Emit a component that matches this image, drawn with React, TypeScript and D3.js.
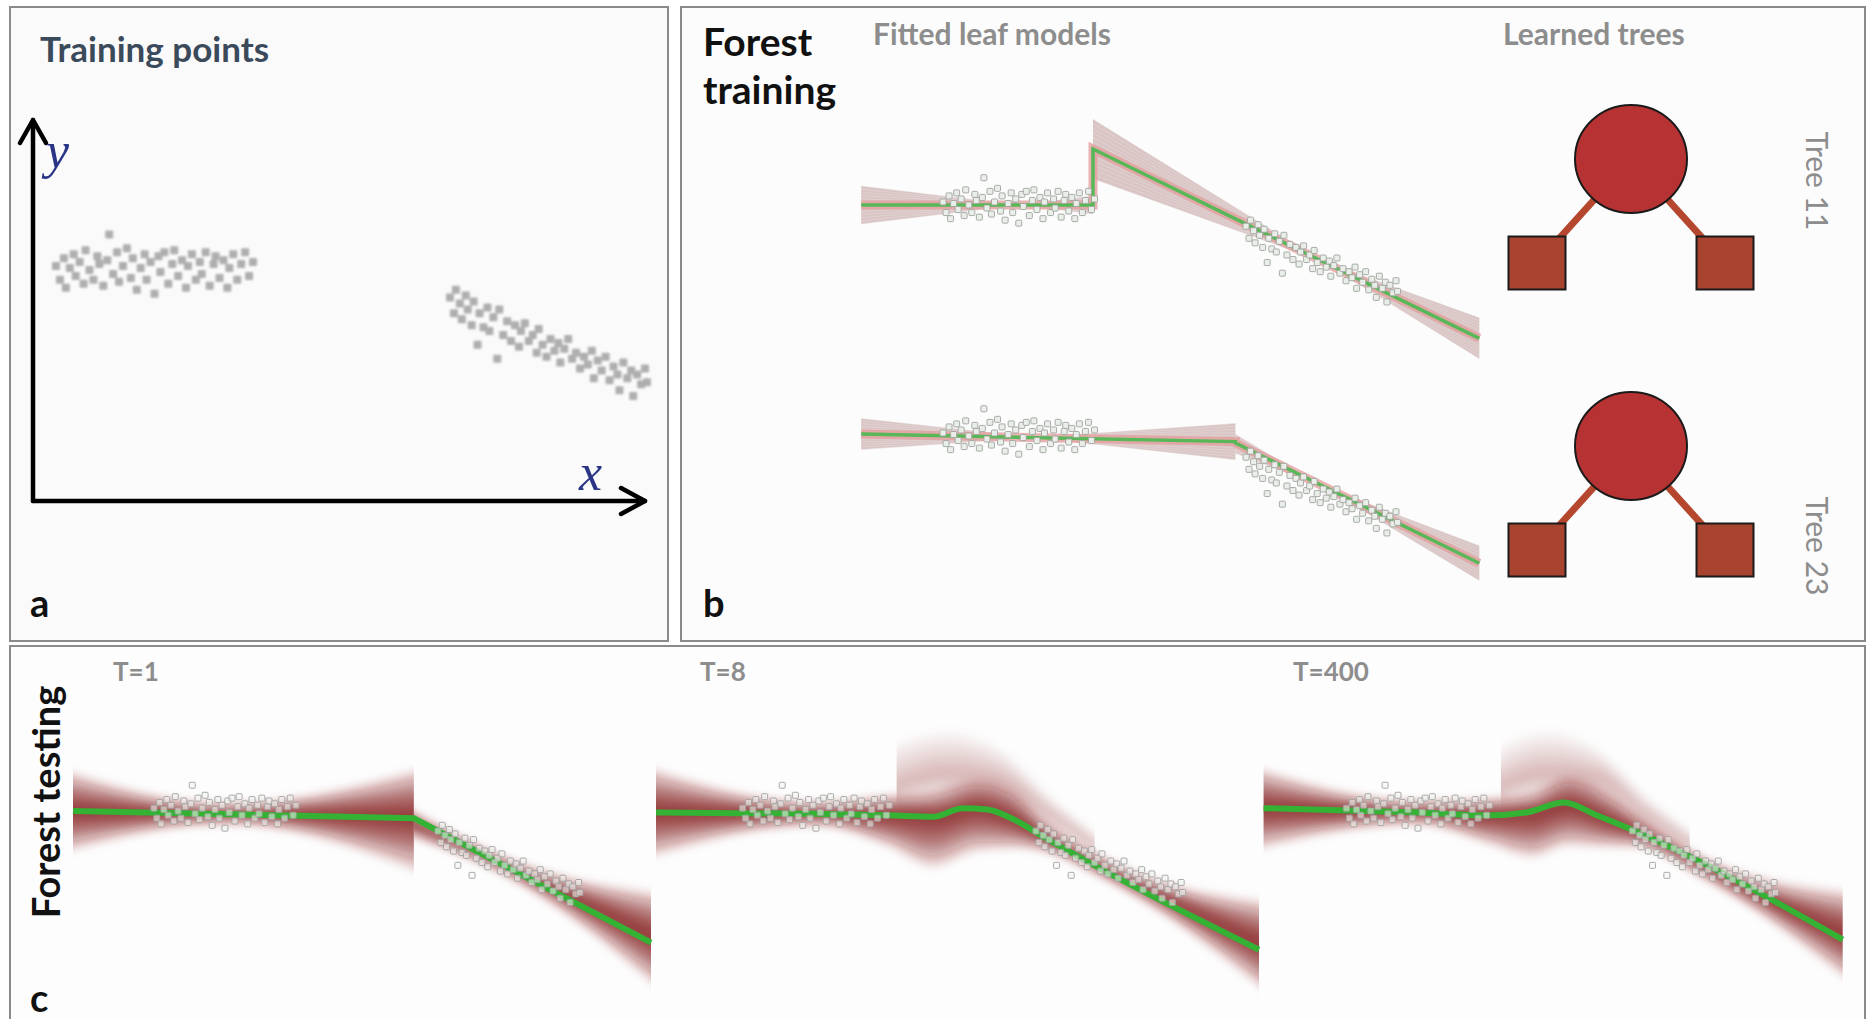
import React from 'react';
import * as d3 from 'd3';

type Pt = [number, number];
type Row = [number, number, number, number]; // x, centre, spread below, spread above

const W = 1871;
const H = 1019;

// training points (data units)
const clusterLeft: Pt[] = [
  [0.0, 0.02], [0.02, -0.05], [0.04, 0.06], [0.05, -0.09], [0.07, 0.01], [0.09, 0.08], [0.1, -0.03],
  [0.12, 0.04], [0.14, -0.07], [0.15, 0.1], [0.17, 0.0], [0.19, -0.05], [0.21, 0.07], [0.22, 0.03],
  [0.24, -0.08], [0.26, 0.05], [0.27, 0.18], [0.29, -0.02], [0.31, 0.09], [0.32, -0.06], [0.34, 0.02],
  [0.36, 0.11], [0.38, -0.04], [0.39, 0.06], [0.41, -0.1], [0.43, 0.01], [0.45, 0.08], [0.46, -0.05],
  [0.48, 0.04], [0.5, -0.12], [0.52, 0.07], [0.53, -0.01], [0.55, 0.09], [0.57, -0.07], [0.59, 0.03],
  [0.6, 0.1], [0.62, -0.03], [0.64, 0.05], [0.66, -0.09], [0.67, 0.02], [0.69, 0.08], [0.71, -0.05],
  [0.73, 0.04], [0.74, -0.02], [0.76, 0.09], [0.78, -0.08], [0.8, 0.03], [0.81, 0.07], [0.83, -0.04],
  [0.85, 0.05], [0.87, -0.09], [0.88, 0.01], [0.9, 0.08], [0.92, -0.05], [0.94, 0.03], [0.96, 0.09],
  [0.98, -0.03], [1.0, 0.04],
];
const clusterRight: Pt[] = [
  [2.0, -0.14], [2.02, -0.22], [2.03, -0.1], [2.05, -0.17], [2.06, -0.25], [2.08, -0.13], [2.09, -0.2],
  [2.11, -0.28], [2.12, -0.16], [2.14, -0.38], [2.15, -0.22], [2.17, -0.29], [2.19, -0.19], [2.2, -0.31],
  [2.22, -0.24], [2.24, -0.45], [2.25, -0.2], [2.27, -0.33], [2.29, -0.26], [2.31, -0.36], [2.33, -0.28],
  [2.35, -0.39], [2.36, -0.31], [2.38, -0.27], [2.4, -0.36], [2.42, -0.33], [2.44, -0.42], [2.45, -0.3],
  [2.47, -0.38], [2.49, -0.44], [2.51, -0.35], [2.53, -0.41], [2.55, -0.37], [2.56, -0.47], [2.58, -0.4],
  [2.6, -0.35], [2.62, -0.45], [2.64, -0.42], [2.66, -0.5], [2.68, -0.44], [2.7, -0.48], [2.72, -0.41],
  [2.73, -0.55], [2.75, -0.46], [2.77, -0.51], [2.79, -0.44], [2.81, -0.56], [2.83, -0.49], [2.85, -0.53],
  [2.86, -0.61], [2.88, -0.47], [2.9, -0.55], [2.92, -0.51], [2.93, -0.64], [2.95, -0.53], [2.97, -0.58],
  [2.99, -0.5], [3.0, -0.57],
];
const allPoints = [...clusterLeft, ...clusterRight];

// panel b: two trees, their leaf line models and the sampled slopes around them
const treeNames = ['Tree 11', 'Tree 23'];
const tree11Mean: Pt[] = [[-0.54, 0], [0.99, 0], [0.99, 0.37], [3.54, -0.88]];
const tree23Mean: Pt[] = [[-0.54, 0.013], [1.93, -0.037], [1.93, -0.046], [3.54, -0.84]];
const tree11Leaves = [
  { from: -0.54, to: 0.99, px: 0.5, py: 0, slope: 0,
    samples: [-0.12, -0.1, -0.08, -0.06, -0.04, -0.02, 0, 0.02, 0.04, 0.06, 0.08, 0.1, 0.12] },
  { from: 0.99, to: 3.54, px: 2.5, py: -0.37, slope: -0.49,
    samples: [-0.13, -0.11, -0.09, -0.07, -0.05, -0.03, -0.01, 0.01, 0.03, 0.05, 0.07, 0.09, 0.11, 0.13] },
];
const tree23Leaves = [
  { from: -0.54, to: 1.93, px: 0.6, py: -0.01, slope: -0.02,
    samples: [-0.09, -0.075, -0.06, -0.045, -0.03, -0.015, 0, 0.015, 0.03, 0.045, 0.06, 0.075, 0.09] },
  { from: 1.93, to: 3.54, px: 2.5, py: -0.33, slope: -0.49,
    samples: [-0.11, -0.09, -0.07, -0.05, -0.03, -0.01, 0.01, 0.03, 0.05, 0.07, 0.09, 0.11] },
];
const treeShape = { name: 'split', children: [{ name: 'left' }, { name: 'right' }] };

// panel c: forest mean prediction and predictive density for T = 1, 8, 400
const testLabels = ['T=1', 'T=8', 'T=400'];
const meanT1: Pt[] = [[-0.57, 0.0], [1.83, -0.05], [3.5, -0.92]];
const meanT8: Pt[] = [[-0.59, -0.01], [0.5, -0.02], [1.0, -0.03], [1.3, -0.04], [1.5, 0.02], [1.67, 0.01],
  [1.85, -0.06], [2.05, -0.18], [3.52, -0.97]];
const meanT400: Pt[] = [[-0.58, 0.02], [0.5, -0.01], [1.0, -0.03], [1.26, -0.01], [1.52, 0.06], [1.75, -0.03],
  [2.04, -0.15], [3.47, -0.9]];

const densT1: Row[][] = [
  [[-0.57, 0, 0.3, 0.3], [0.5, -0.02, 0.07, 0.07], [1.83, -0.05, 0.4, 0.36]],
  [[1.83, -0.05, 0.1, 0.1], [2.5, -0.4, 0.06, 0.06], [3.5, -0.92, 0.36, 0.34]],
];
const densT8: Row[][] = [
  [[-0.59, -0.01, 0.33, 0.33], [0.5, -0.02, 0.08, 0.08], [1.0, -0.03, 0.22, 0.14], [1.3, -0.04, 0.35, 0.18],
    [1.6, 0.02, 0.3, 0.2], [1.85, -0.06, 0.2, 0.2], [2.05, -0.18, 0.1, 0.12], [2.5, -0.42, 0.07, 0.07],
    [3.52, -0.97, 0.33, 0.33]],
];
const plumeT8: Row[] = [[1.05, 0.12, 0.1, 0.32], [1.4, 0.26, 0.18, 0.3], [1.75, 0.22, 0.2, 0.22],
  [2.1, -0.02, 0.12, 0.12], [2.4, -0.3, 0.07, 0.07]];
const densT400: Row[][] = [
  [[-0.58, 0.02, 0.3, 0.3], [0.5, -0.01, 0.08, 0.08], [1.0, -0.03, 0.2, 0.12], [1.3, -0.02, 0.3, 0.15],
    [1.55, 0.04, 0.28, 0.2], [1.8, -0.05, 0.2, 0.2], [2.04, -0.15, 0.1, 0.12], [2.5, -0.4, 0.07, 0.07],
    [3.47, -0.9, 0.33, 0.33]],
];
const plumeT400: Row[] = [[1.08, 0.1, 0.08, 0.3], [1.4, 0.26, 0.18, 0.3], [1.75, 0.24, 0.2, 0.2],
  [2.1, -0.02, 0.12, 0.12], [2.4, -0.28, 0.07, 0.07]];

const levels = [1.0, 0.88, 0.77, 0.66, 0.56, 0.46, 0.37, 0.28, 0.2, 0.12, 0.05];

// scales
const xA = d3.scaleLinear().domain([0, 3]).range([56, 647]);
const yA = d3.scaleLinear().domain([-1, 1]).range([270 + 197, 270 - 197]);
const xB = d3.scaleLinear().domain([-0.54, 3.54]).range([943 - 0.54 * 151.5, 943 + 3.54 * 151.5]);
const yB = [
  d3.scaleLinear().domain([-1, 1]).range([205 + 151.5, 205 - 151.5]),
  d3.scaleLinear().domain([-1, 1]).range([436 + 151.5, 436 - 151.5]),
];
const cRanges: [number, number][] = [[73, 651], [659, 1256], [1265, 1847]];
const xC = cRanges.map((r) => d3.scaleLinear().domain([-0.57, 3.5]).range(r));
const yC = d3.scaleLinear().domain([-1, 1]).range([811 + 143, 811 - 143]);

const grey = '#8d8d8d';

function Density({ rows, x, id, strength = 1 }: { rows: Row[]; x: d3.ScaleLinear<number, number>; id: string; strength?: number }) {
  const x0 = x(rows[0][0]);
  const x1 = x(rows[rows.length - 1][0]);
  const n = rows.length - 1;
  return (
    <g>
      <clipPath id={id}><rect x={x0} y={600} width={x1 - x0} height={500} /></clipPath>
      <g clipPath={`url(#${id})`}>
        <g filter="url(#soft)">
          {levels.map((k) => {
            const area = d3.area<Row>()
              .x((r, i) => x(r[0]) + (i === 0 ? -14 : i === n ? 14 : 0))
              .y0((r) => yC(r[1] - k * r[2]))
              .y1((r) => yC(r[1] + k * r[3]))
              .curve(d3.curveMonotoneX);
            return <path key={k} d={area(rows) || ''} fill="#7d1515" fillOpacity={0.15 * strength} />;
          })}
        </g>
      </g>
    </g>
  );
}

function Fan({ leaf, y }: { leaf: typeof tree11Leaves[number]; y: d3.ScaleLinear<number, number> }) {
  const at = (s: number, xv: number) => leaf.py + (leaf.slope + s) * (xv - leaf.px);
  const m = d3.max(leaf.samples, (s) => Math.abs(s)) || 0;
  const env: Pt[] = [
    [leaf.from, at(0, leaf.from) + m * Math.abs(leaf.from - leaf.px)],
    [leaf.px, leaf.py],
    [leaf.to, at(0, leaf.to) + m * Math.abs(leaf.to - leaf.px)],
    [leaf.to, at(0, leaf.to) - m * Math.abs(leaf.to - leaf.px)],
    [leaf.px, leaf.py],
    [leaf.from, at(0, leaf.from) - m * Math.abs(leaf.from - leaf.px)],
  ];
  const poly = d3.line<Pt>().x((d) => xB(d[0])).y((d) => y(d[1]));
  return (
    <g>
      <path d={(poly(env) || '') + 'Z'} fill="#cfb3b3" fillOpacity={0.75} />
      {leaf.samples.map((s, i) => (
        <line key={i} x1={xB(leaf.from)} y1={y(at(s, leaf.from))} x2={xB(leaf.to)} y2={y(at(s, leaf.to))}
          stroke="#e8dede" strokeOpacity={0.6} strokeWidth={0.8} />
      ))}
    </g>
  );
}

function Points({ x, y, size, fill, stroke }: { x: (v: number) => number; y: (v: number) => number; size: number; fill: string; stroke: string }) {
  return (
    <g>
      {allPoints.map((p, i) => (
        <rect key={i} x={x(p[0]) - size / 2} y={y(p[1]) - size / 2} width={size} height={size} rx={1}
          fill={fill} stroke={stroke} strokeWidth={stroke === 'none' ? 0 : 0.9} />
      ))}
    </g>
  );
}

function Tree({ top }: { top: number }) {
  // d3.tree insets leaves by half a separation, so the layout is twice as wide as the leaf spacing
  const root = d3.tree<{ name: string }>().size([376, 104])(d3.hierarchy(treeShape as any));
  const nodes = root.descendants();
  return (
    <g transform={`translate(${1631 - 188},${top})`}>
      {root.links().map((l, i) => (
        <line key={i} x1={l.source.x} y1={l.source.y} x2={l.target.x} y2={l.target.y} stroke="#b5472f" strokeWidth={7} />
      ))}
      {nodes.map((n, i) =>
        n.children ? (
          <ellipse key={i} cx={n.x} cy={n.y} rx={56} ry={54} fill="#b73232" stroke="#1a1a1a" strokeWidth={2} />
        ) : (
          <rect key={i} x={n.x - 28.5} y={n.y - 26.5} width={57} height={53} fill="#a8432f" stroke="#1a1a1a" strokeWidth={2} />
        )
      )}
    </g>
  );
}

export default function App() {
  const meanLineB = (y: d3.ScaleLinear<number, number>) => d3.line<Pt>().x((d) => xB(d[0])).y((d) => y(d[1]));
  const meansC = [meanT1, meanT8, meanT400];
  const densC = [densT1, densT8, densT400];
  const plumes = [null, plumeT8, plumeT400];
  const labelX = [113, 700, 1293];

  return (
    <svg width={W} height={H} style={{ position: 'absolute', left: 0, top: 0, background: '#fff' }}
      fontFamily="Lato, 'Open Sans', sans-serif">
      <defs>
        <filter id="soft" x="-20%" y="-80%" width="140%" height="260%">
          <feGaussianBlur stdDeviation="5" />
        </filter>
        <filter id="pblur" x="-10%" y="-10%" width="120%" height="120%">
          <feGaussianBlur stdDeviation="1.1" />
        </filter>
      </defs>

      {/* panel frames */}
      <rect x={10} y={7} width={658} height={634} fill="#fafafa" stroke="#8a8a8a" strokeWidth={2} />
      <rect x={681} y={7} width={1184} height={634} fill="#fcfcfc" stroke="#8a8a8a" strokeWidth={2} />
      <rect x={10} y={646} width={1855} height={400} fill="#fdfdfd" stroke="#8a8a8a" strokeWidth={2} />

      {/* panel a */}
      <text x={40} y={62} fontSize={35} fontWeight={700} fill="#3b4a5b">Training points</text>
      <g stroke="#000" strokeWidth={4.5} fill="none" strokeLinecap="round" strokeLinejoin="round">
        <path d="M33,501 L33,120" />
        <path d="M20,143 L33,120 L46,143" />
        <path d="M33,501 L645,501" />
        <path d="M621,488 L645,501 L621,514" />
      </g>
      <text x={46} y={168} fontSize={52} fontStyle="italic" fontFamily="'Liberation Serif', 'DejaVu Serif', serif" fill="#2a3585">y</text>
      <text x={579} y={490} fontSize={52} fontStyle="italic" fontFamily="'Liberation Serif', 'DejaVu Serif', serif" fill="#2a3585">x</text>
      <g filter="url(#pblur)" opacity={0.8}>
        <Points x={xA} y={yA} size={8} fill="#9c9c9c" stroke="none" />
      </g>
      <text x={30} y={617} fontSize={38} fontWeight={700} fill="#111">a</text>

      {/* panel b */}
      <text x={703} y={56} fontSize={39} fontWeight={700} fill="#111">Forest</text>
      <text x={703} y={104} fontSize={39} fontWeight={700} fill="#111">training</text>
      <text x={873} y={45} fontSize={30} fontWeight={700} fill={grey}>Fitted leaf models</text>
      <text x={1503} y={45} fontSize={30} fontWeight={700} fill={grey}>Learned trees</text>
      <text x={703} y={617} fontSize={38} fontWeight={700} fill="#111">b</text>

      {[tree11Leaves, tree23Leaves].map((leaves, t) => (
        <g key={t}>
          {leaves.map((leaf, i) => <Fan key={i} leaf={leaf} y={yB[t]} />)}
          <path d={meanLineB(yB[t])(t === 0 ? tree11Mean : tree23Mean) || ''} fill="none" stroke="#e39b9b" strokeOpacity={0.75} strokeWidth={9} />
          <path d={meanLineB(yB[t])(t === 0 ? tree11Mean : tree23Mean) || ''} fill="none" stroke="#58b858" strokeWidth={3.5} />
          <Points x={xB} y={yB[t]} size={6} fill="#e9eee9" stroke="#9ea39e" />
        </g>
      ))}
      <Tree top={159} />
      <Tree top={446} />
      {treeNames.map((name, i) => (
        <text key={name} transform={`translate(1806,${[181, 546][i]}) rotate(90)`} textAnchor="middle"
          fontSize={30} fill={grey}>{name}</text>
      ))}

      {/* panel c */}
      <text transform="translate(60,802) rotate(-90)" textAnchor="middle" fontSize={38} fontWeight={700} fill="#111">Forest testing</text>
      <text x={30} y={1012} fontSize={38} fontWeight={700} fill="#111">c</text>
      {testLabels.map((label, p) => (
        <g key={label}>
          <text x={labelX[p]} y={681} fontSize={26} fontWeight={700} fill={grey}>{label}</text>
          {plumes[p] && <Density rows={plumes[p] as Row[]} x={xC[p]} id={`plume${p}`} strength={0.22} />}
          {densC[p].map((rows, i) => <Density key={i} rows={rows} x={xC[p]} id={`dens${p}-${i}`} />)}
          <path d={d3.line<Pt>().x((d) => xC[p](d[0])).y((d) => yC(d[1]))
            .curve(p === 0 ? d3.curveLinear : d3.curveMonotoneX)(meansC[p]) || ''}
            fill="none" stroke="#34b234" strokeWidth={6} />
          <Points x={xC[p]} y={yC} size={6} fill="rgba(240,245,240,0.55)" stroke="#a0a0a0" />
        </g>
      ))}
    </svg>
  );
}
